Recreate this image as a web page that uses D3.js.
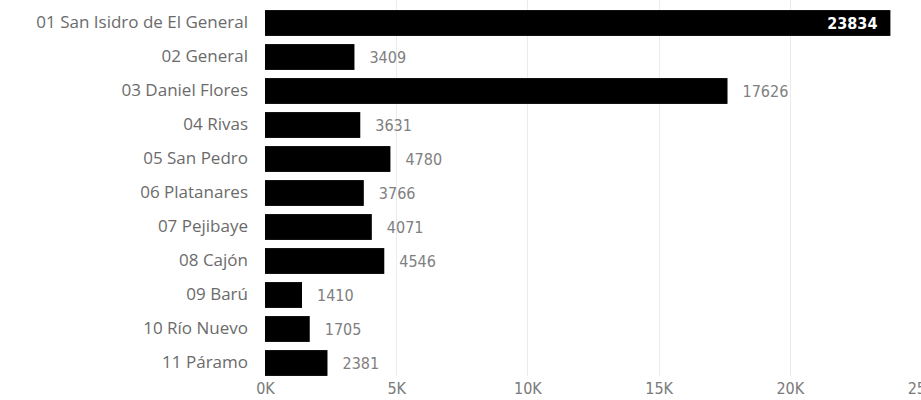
<!DOCTYPE html>
<html>
<head>
<meta charset="utf-8">
<script src="https://cdn.jsdelivr.net/npm/d3@7"></script>
<style>
  html, body { margin: 0; padding: 0; background: #fff; }
  svg { display: block; }
</style>
</head>
<body>
<svg id="chart" width="921" height="400"></svg>
<script>
const categories = [
  "01 San Isidro de El General",
  "02 General",
  "03 Daniel Flores",
  "04 Rivas",
  "05 San Pedro",
  "06 Platanares",
  "07 Pejibaye",
  "08 Cajón",
  "09 Barú",
  "10 Río Nuevo",
  "11 Páramo"
];
const values = [23834, 3409, 17626, 3631, 4780, 3766, 4071, 4546, 1410, 1705, 2381];
const tickValues = [0, 5000, 10000, 15000, 20000, 25000];
const tickLabels = ["0K", "5K", "10K", "15K", "20K", "25K"];

const data = categories.map((c, i) => ({ cat: c, val: values[i] }));

const svg = d3.select("#chart");
const x = d3.scaleLinear().domain([0, 25000]).range([265, 921]);
const y = d3.scaleBand().domain(categories).range([6, 380]).paddingInner(0.24).paddingOuter(0.12);

// gridlines
svg.append("g").selectAll("line").data(tickValues.slice(1)).join("line")
  .attr("x1", d => Math.round(x(d)) + 0.5).attr("x2", d => Math.round(x(d)) + 0.5)
  .attr("y1", 0).attr("y2", 376)
  .attr("stroke", "#ebebeb").attr("stroke-width", 1);

// x axis labels
const xAxis = d3.axisBottom(x).tickValues(tickValues).tickFormat((d, i) => tickLabels[i]).tickSize(0).tickPadding(0);
const gx = svg.append("g").attr("transform", "translate(0,383)").call(xAxis);
gx.select(".domain").remove();
gx.selectAll("text")
  .attr("fill", "#7a7a7a")
  .style("font-family", "'DejaVu Sans Condensed', 'DejaVu Sans', sans-serif")
  .style("font-stretch", "condensed")
  .style("font-size", "16px");

// y axis labels
const yAxis = d3.axisLeft(y).tickSize(0).tickPadding(0);
const gy = svg.append("g").attr("transform", "translate(248,0)").call(yAxis);
gy.select(".domain").remove();
gy.selectAll("text")
  .attr("fill", "#6b6b6b")
  .style("font-family", "'Open Sans', sans-serif")
  .style("font-size", "17px");

// bars
svg.append("g").selectAll("rect").data(data).join("rect")
  .attr("x", x(0))
  .attr("y", d => y(d.cat))
  .attr("width", d => x(d.val) - x(0))
  .attr("height", y.bandwidth())
  .attr("fill", "#000");

// value labels
const maxVal = d3.max(values);
svg.append("g").selectAll("text").data(data).join("text")
  .attr("x", d => d.val === maxVal ? x(d.val) - 13 : x(d.val) + 15)
  .attr("y", d => y(d.cat) + y.bandwidth() / 2)
  .attr("dy", "0.36em")
  .attr("text-anchor", d => d.val === maxVal ? "end" : "start")
  .attr("fill", d => d.val === maxVal ? "#fff" : "#808080")
  .style("font-weight", d => d.val === maxVal ? "bold" : "normal")
  .style("font-family", "'DejaVu Sans Condensed', 'DejaVu Sans', sans-serif")
  .style("font-stretch", "condensed")
  .style("font-size", "16px")
  .text(d => d.val);
</script>
</body>
</html>
